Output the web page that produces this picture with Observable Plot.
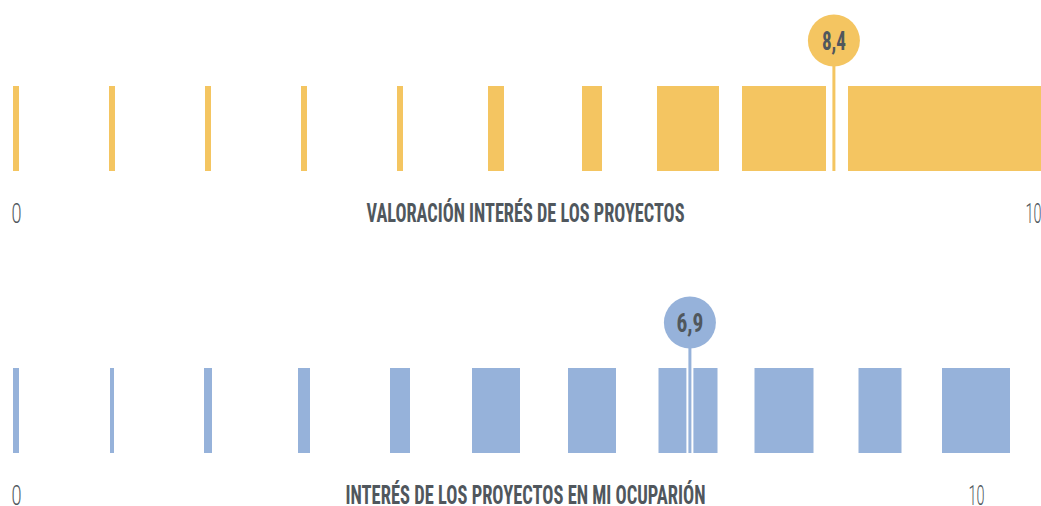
<!DOCTYPE html>
<html>
<head>
<meta charset="utf-8">
<script src="https://cdn.jsdelivr.net/npm/d3@7"></script>
<script src="https://cdn.jsdelivr.net/npm/@observablehq/plot@0.6"></script>
<style>
  body { margin: 0; background: #fff; }
  svg { display: block; }
</style>
</head>
<body>
<div id="chart"></div>
<script>
// ---- Data ----
const puntuaciones = [0, 1, 2, 3, 4, 5, 6, 7, 8, 9, 10];
// relative number of answers per score (encoded as bar width)
const respuestasValoracion = [1.5, 1.5, 1.5, 1.5, 1.5, 4, 5, 15.5, 21, 16, 33];
const respuestasOcupacion  = [1.5, 1, 2, 3, 5, 12, 12, 14.75, 14.75, 10.75, 17];
const mediaValoracion = 8.4;
const mediaOcupacion = 6.9;
const titulos = ["VALORACIÓN INTERÉS DE LOS PROYECTOS", "INTERÉS DE LOS PROYECTOS EN MI OCUPARIÓN"];
const etiquetasEje = ["0", "10"];
const colores = ["#F4C561", "#96B2DA"];

// condensed-type widths (px) for the texts
const anchoTexto = {
  "VALORACIÓN INTERÉS DE LOS PROYECTOS": 318,
  "INTERÉS DE LOS PROYECTOS EN MI OCUPARIÓN": 360,
  "8,4": 24, "6,9": 27, "0": 10, "10": 16
};

const gris = "#50575D";
const condensada = "'Roboto Condensed', 'DejaVu Sans Condensed', 'DejaVu Sans', sans-serif";

function panel({counts, media, titulo, color, height, marginTop, marginBottom, tickDx}) {
  const data = puntuaciones.map((s, i) => ({s, c: counts[i]}));
  const medio = 1 / 48; // half bar width (score units) per answer
  const svg = Plot.plot({
    width: 1041, height,
    marginLeft: 16, marginRight: 65, marginTop, marginBottom,
    x: {domain: [0, 10], axis: null},
    y: {domain: [0, 1], axis: null},
    marks: [
      Plot.rect(data, {x1: d => d.s - d.c * medio, x2: d => d.s + d.c * medio, y1: 0, y2: 1, fill: color}),
      Plot.ruleX([media], {x: d => d, y1: 0, y2: 1.54, stroke: "white", strokeWidth: 7, dx: 11}),
      Plot.ruleX([media], {x: d => d, y1: 0, y2: 1.54, stroke: color, strokeWidth: 3, dx: 11}),
      Plot.dot([media], {x: d => d, y: 1.54, r: 26, fill: color, stroke: "none", dx: 11}),
      Plot.text([media], {x: d => d, y: 1.54, dx: 11, dy: 1,
        text: d => d.toFixed(1).replace(".", ","),
        fontSize: 26, fontWeight: "bold", fontFamily: condensada, fill: gris}),
      Plot.text([etiquetasEje[0]], {x: 0, y: -0.5, text: d => d,
        fontSize: 28, fontWeight: 300, fontFamily: "Roboto, sans-serif", fill: gris}),
      Plot.text([etiquetasEje[1]], {x: 10, y: -0.5, dx: tickDx, text: d => d,
        fontSize: 28, fontWeight: 300, fontFamily: "Roboto, sans-serif", fill: gris}),
      Plot.text([titulo], {y: -0.5, frameAnchor: "middle", dx: 29, text: d => d,
        fontSize: 26, fontWeight: "bold", fontFamily: condensada, fill: gris})
    ]
  });
  d3.select(svg).selectAll("text")
    .each(function() {
      const t = this.textContent;
      if (anchoTexto[t]) {
        d3.select(this).attr("textLength", anchoTexto[t]).attr("lengthAdjust", "spacingAndGlyphs");
      }
    });
  return svg;
}

const chart = document.getElementById("chart");
chart.append(panel({counts: respuestasValoracion, media: mediaValoracion, titulo: titulos[0], color: colores[0],
  height: 281, marginTop: 86, marginBottom: 110, tickDx: 57}));
chart.append(panel({counts: respuestasOcupacion, media: mediaOcupacion, titulo: titulos[1], color: colores[1],
  height: 225, marginTop: 87, marginBottom: 53, tickDx: 0}));
</script>
</body>
</html>
